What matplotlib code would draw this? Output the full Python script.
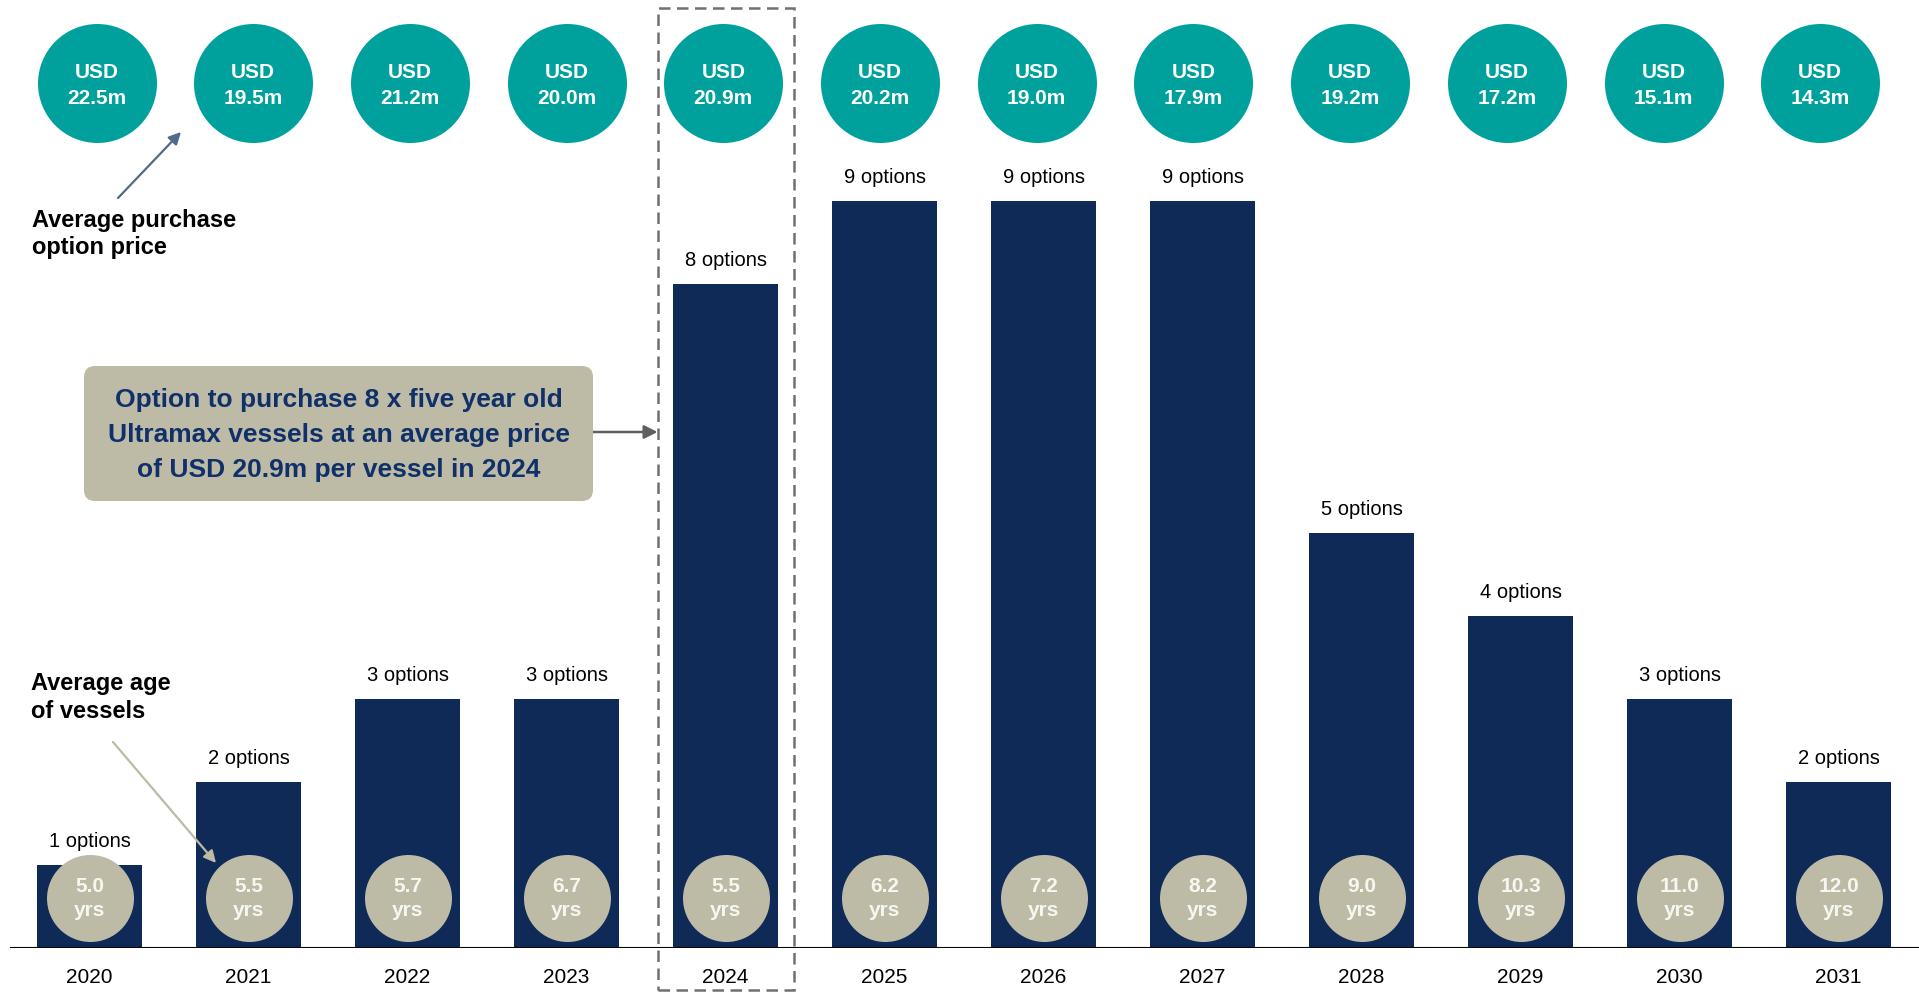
import matplotlib
matplotlib.use("Agg")
import matplotlib.pyplot as plt
import matplotlib.transforms as mtransforms
from matplotlib.patches import Rectangle, FancyBboxPatch

# ---- data -------------------------------------------------------------
years = ["2020", "2021", "2022", "2023", "2024", "2025",
         "2026", "2027", "2028", "2029", "2030", "2031"]
options = [1, 2, 3, 3, 8, 9, 9, 9, 5, 4, 3, 2]
avg_price_usd_m = [22.5, 19.5, 21.2, 20.0, 20.9, 20.2,
                   19.0, 17.9, 19.2, 17.2, 15.1, 14.3]
avg_age_yrs = [5.0, 5.5, 5.7, 6.7, 5.5, 6.2, 7.2, 8.2, 9.0, 10.3, 11.0, 12.0]
highlight_year = "2024"
callout_text = ("Option to purchase 8 x five year old\n"
                "Ultramax vessels at an average price\n"
                "of USD 20.9m per vessel in 2024")

# ---- style ------------------------------------------------------------
NAVY = "#0F2A56"
TEAL = "#00A19D"
STONE = "#BDBAA6"
CALLOUT_TEXT = "#10306A"
DASH_GREY = "#707070"
ARROW_BLUE = "#4F6B89"

plt.rcParams["font.family"] = ["Liberation Sans", "DejaVu Sans"]

W, H, DPI = 1919, 992, 100
fig = plt.figure(figsize=(W / DPI, H / DPI), dpi=DPI)
fig.patch.set_facecolor("white")

BASE_PX = 947.7          # baseline, pixels from top
PX_PER_OPTION = 83.0
FIRST_CENTER = 89.5      # first bar centre, pixels from left
PITCH = 159.0            # bar spacing, pixels
PRICE_FIRST = 96.5       # first price disc centre, pixels from left
PRICE_PITCH = 156.7      # price disc spacing, pixels

ax = fig.add_axes([0, (H - BASE_PX) / H, 1, BASE_PX / H])
ax.set_facecolor("none")


def fy(py):
    """pixel row (from top) -> figure fraction"""
    return 1 - py / H


def pt(px):
    return px * 72.0 / DPI


x = list(range(len(years)))
xdat_fig = mtransforms.blended_transform_factory(ax.transData, fig.transFigure)

# bars
ax.bar(x, options, width=0.655, color=NAVY, zorder=2)

# option count labels
for xi, n in zip(x, options):
    ax.annotate(f"{n} options", (xi, n), xytext=(0, pt(18)),
                textcoords="offset points", ha="center", va="baseline",
                fontsize=14.5, color="black")

# average age discs on the bars
AGE_Y = 897.5
ax.scatter(x, [fy(AGE_Y)] * len(x), s=pt(87) ** 2, color=STONE,
           linewidths=0, transform=xdat_fig, clip_on=False, zorder=4)
for xi, a in zip(x, avg_age_yrs):
    ax.annotate(f"{a:.1f}", (xi, fy(AGE_Y)), xycoords=xdat_fig,
                xytext=(0, pt(6)), textcoords="offset points",
                ha="center", va="baseline", fontsize=15, fontweight="bold",
                color="#F7F7F2", zorder=5)
    ax.annotate("yrs", (xi, fy(AGE_Y)), xycoords=xdat_fig,
                xytext=(0, -pt(19)), textcoords="offset points",
                ha="center", va="baseline", fontsize=15, fontweight="bold",
                color="#F7F7F2", zorder=5)

# average purchase price discs along the top (own, slightly tighter spacing)
PRICE_Y = 83.0
price_x = [(PRICE_FIRST + i * PRICE_PITCH - FIRST_CENTER) / PITCH for i in x]
ax.scatter(price_x, [fy(PRICE_Y)] * len(x), s=pt(119) ** 2, color=TEAL,
           linewidths=0, transform=xdat_fig, clip_on=False, zorder=4)
for xp, p in zip(price_x, avg_price_usd_m):
    ax.annotate("USD", (xp, fy(PRICE_Y)), xycoords=xdat_fig,
                xytext=(0, pt(4.5)), textcoords="offset points",
                ha="center", va="baseline", fontsize=15, fontweight="bold",
                color="white", zorder=5)
    ax.annotate(f"{p:.1f}m", (xp, fy(PRICE_Y)), xycoords=xdat_fig,
                xytext=(0, -pt(21)), textcoords="offset points",
                ha="center", va="baseline", fontsize=15, fontweight="bold",
                color="white", zorder=5)

# axes
ax.set_ylim(0, BASE_PX / PX_PER_OPTION)
ax.set_xlim(-FIRST_CENTER / PITCH, (W - FIRST_CENTER) / PITCH)
for s in ax.spines.values():
    s.set_visible(False)
ax.axhline(0, xmin=11 / W, xmax=1, color="black", lw=1.5, zorder=3)
ax.set_yticks([])
ax.set_xticks(x, years)
ax.tick_params(axis="x", length=0, pad=14.5, labelsize=15, labelcolor="black")

# highlighted year frame
hi = years.index(highlight_year)
HALF_L, HALF_R = 0.427, 0.428
frame = Rectangle((hi - HALF_L, fy(990)), HALF_L + HALF_R, fy(8) - fy(990),
                  transform=xdat_fig, fill=False, edgecolor=DASH_GREY,
                  lw=1.8, linestyle=(0, (4.6, 2.6)), clip_on=False, zorder=6)
ax.add_artist(frame)

# callout box
inch = fig.dpi_scale_trans
bx0, bx1, by0, by1 = 84, 593, 366, 501
box = FancyBboxPatch((bx0 / DPI, (H - by1) / DPI), (bx1 - bx0) / DPI,
                     (by1 - by0) / DPI,
                     boxstyle="round,pad=0,rounding_size=0.11",
                     transform=inch, facecolor=STONE, edgecolor="none",
                     zorder=6)
fig.add_artist(box)
fig.text((bx0 + bx1) / 2 / W, fy(435), callout_text, ha="center",
         va="center", fontsize=19, fontweight="bold", color=CALLOUT_TEXT,
         linespacing=1.56, zorder=7)
ax.annotate("", xy=(hi - HALF_L, fy(432)), xycoords=("data", "figure fraction"),
            xytext=(bx1 / W, fy(432)), textcoords="figure fraction",
            arrowprops=dict(arrowstyle="-|>", color="#606060", lw=1.8,
                            mutation_scale=20, shrinkA=0, shrinkB=0),
            zorder=7)

# side notes with pointers
fig.text(32 / W, fy(226.7), "Average purchase", ha="left", va="baseline",
         fontsize=17, fontweight="bold", color="black")
fig.text(32 / W, fy(254), "option price", ha="left", va="baseline",
         fontsize=17, fontweight="bold", color="black")
ax.annotate("", xy=(181 / W, fy(132)), xycoords="figure fraction",
            xytext=(118 / W, fy(198)), textcoords="figure fraction",
            arrowprops=dict(arrowstyle="-|>", color=ARROW_BLUE, lw=1.6,
                            mutation_scale=18, shrinkA=0, shrinkB=0))

fig.text(31 / W, fy(690), "Average age", ha="left", va="baseline",
         fontsize=17, fontweight="bold", color="black")
fig.text(31 / W, fy(718), "of vessels", ha="left", va="baseline",
         fontsize=17, fontweight="bold", color="black")
ax.annotate("", xy=(216 / W, fy(863)), xycoords="figure fraction",
            xytext=(113 / W, fy(742)), textcoords="figure fraction",
            arrowprops=dict(arrowstyle="-|>", color=STONE, lw=1.6,
                            mutation_scale=18, shrinkA=0, shrinkB=0),
            zorder=8)

fig.savefig("out.png", dpi=DPI, facecolor="white")
